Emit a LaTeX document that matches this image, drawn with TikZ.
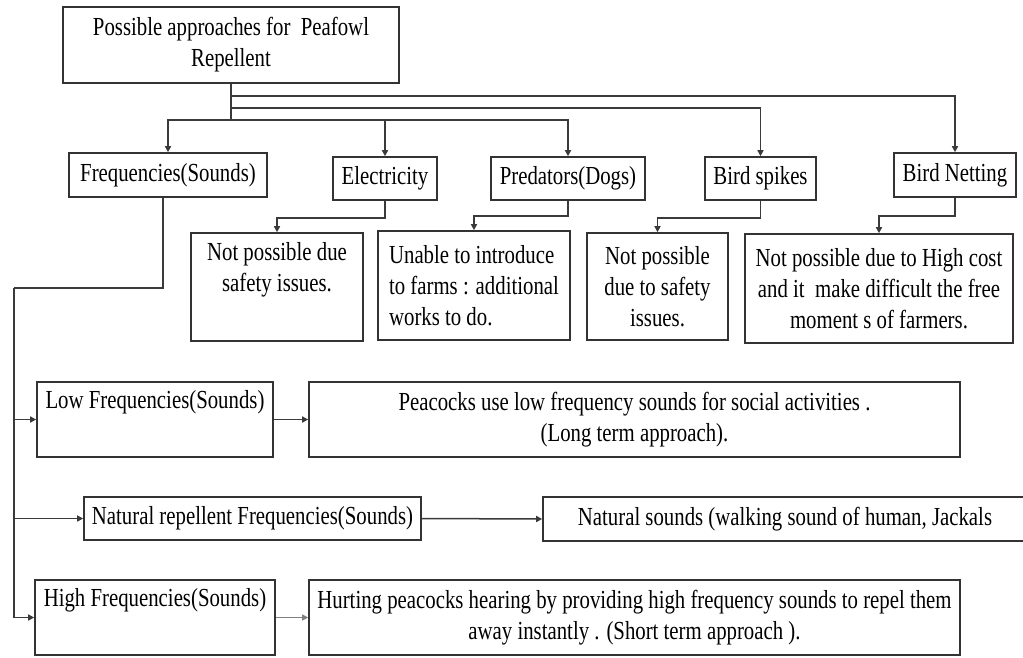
\documentclass[tikz,border=0pt]{standalone}
\usepackage{fontspec}
\setmainfont[FakeStretch=0.8]{Liberation Serif}
\usepackage{tikz}
\usetikzlibrary{
  arrows.meta,
  positioning,
}
\definecolor{ink}{HTML}{333333}
\definecolor{wirecol}{HTML}{3A3A3A}
\tikzset{
  >={Triangle[length=6pt,width=6pt]},
  every node/.append style={text=black},
  box/.style={
    draw=ink,
    line width=1.6pt,
    align=center,
    inner sep=3pt,
    font=\fontsize{26}{31}\selectfont,
  },
  wire/.style={draw=wirecol, line width=1.5pt},
  thinwire/.style={draw=gray, line width=0.9pt},
}

\begin{document}
\begin{tikzpicture}[x=1pt,y=-1pt]
  \useasboundingbox (0,0) rectangle (1023,657);
  \fill[white] (0,0) rectangle (1023,657);

  % root
  \node[box, minimum width=336pt, minimum height=76pt] (root) at (231,45) {Possible approaches for\ \ Peafowl\\Repellent};

  % approaches
  \node[box, minimum width=198pt, minimum height=44pt] (freq) at (168,175) {Frequencies(Sounds)};
  \node[box, minimum width=104pt, minimum height=43pt] (elec) at (385,178.5) {Electricity};
  \node[box, minimum width=154pt, minimum height=43pt] (pred) at (568,178.5) {Predators(Dogs)};
  \node[box, minimum width=111pt, minimum height=43pt] (spikes) at (760.5,178.5) {Bird spikes};
  \node[box, minimum width=122pt, minimum height=44pt] (netting) at (955,175) {Bird Netting};

  % reasons
  \node[box, minimum width=172pt, minimum height=108pt] (elecnote) at (277,287) {Not possible due\\safety issues.\\\strut};
  \node[box, align=left, minimum width=192pt, minimum height=109pt] (prednote) at (474,285.5) {Unable to introduce\\to farms : additional\\works to do.};
  \node[box, minimum width=141pt, minimum height=107pt] (spikenote) at (657.5,286.5) {Not possible\\due to safety\\issues.};
  \node[box, minimum width=268pt, minimum height=109pt] (netnote) at (879,288.5) {Not possible due to High cost\\and it\ \ make difficult the free\\moment s of farmers.};

  % sound kinds
  \node[box, minimum width=236pt, minimum height=75pt] (lowf) at (155,419.5) {Low Frequencies(Sounds)\\\strut};
  \node[box, minimum width=651pt, minimum height=75pt] (lownote) at (634.5,419.5) {Peacocks use low frequency sounds for social activities .\\(Long term approach).};
  \node[box, minimum width=337pt, minimum height=43pt] (natf) at (252.5,518.5) {Natural repellent Frequencies(Sounds)};
  \node[box, minimum width=484pt, minimum height=44pt] (natnote) at (785,519) {Natural sounds (walking sound of human, Jackals};
  \node[box, minimum width=240pt, minimum height=75pt] (highf) at (155,617.5) {High Frequencies(Sounds)\\\strut};
  \node[box, minimum width=651pt, minimum height=75pt] (highnote) at (634.5,617.5) {Hurting peacocks hearing by providing high frequency sounds to repel them\\away instantly . (Short term approach ).};

  % bus from root
  \coordinate (bus1) at (231,96);
  \coordinate (bus2) at (231,108);
  \coordinate (bus3) at (231,120);
  \draw[wire] (root.south) -- (bus3);
  \draw[wire, ->] (bus1) -| (netting.north);
  \draw[wire, ->] (bus2) -| (spikes.north);
  \draw[wire, ->] (bus3) -| (pred.north);
  \draw[wire, ->] (bus3) -| (elec.north);
  \draw[wire, ->] (bus3) -| (freq.north);

  % approach -> reason
  \draw[wire, ->] (elec.south) -- ++(0,17) -| (elecnote.north);
  \draw[wire, ->] (pred.south) -- ++(0,15) -| (prednote.north);
  \draw[wire, ->] (spikes.south) -- ++(0,17) -| (spikenote.north);
  \draw[wire, ->] (netting.south) -- ++(0,18) -| (netnote.north);

  % frequencies trunk
  \coordinate (trunk) at (14,288);
  \draw[wire] ([xshift=-5pt]freq.south) |- (trunk);
  \draw[wire, ->] (trunk) |- (lowf.west);
  \draw[wire, ->] (trunk) |- (natf.west);
  \draw[wire, ->] (trunk) |- (highf.west);

  \draw[wire, ->] (lowf.east) -- (lownote.west);
  \draw[wire, ->] (natf.east) -- (natnote.west);
  \draw[thinwire, ->] (highf.east) -- (highnote.west);
\end{tikzpicture}
\end{document}
